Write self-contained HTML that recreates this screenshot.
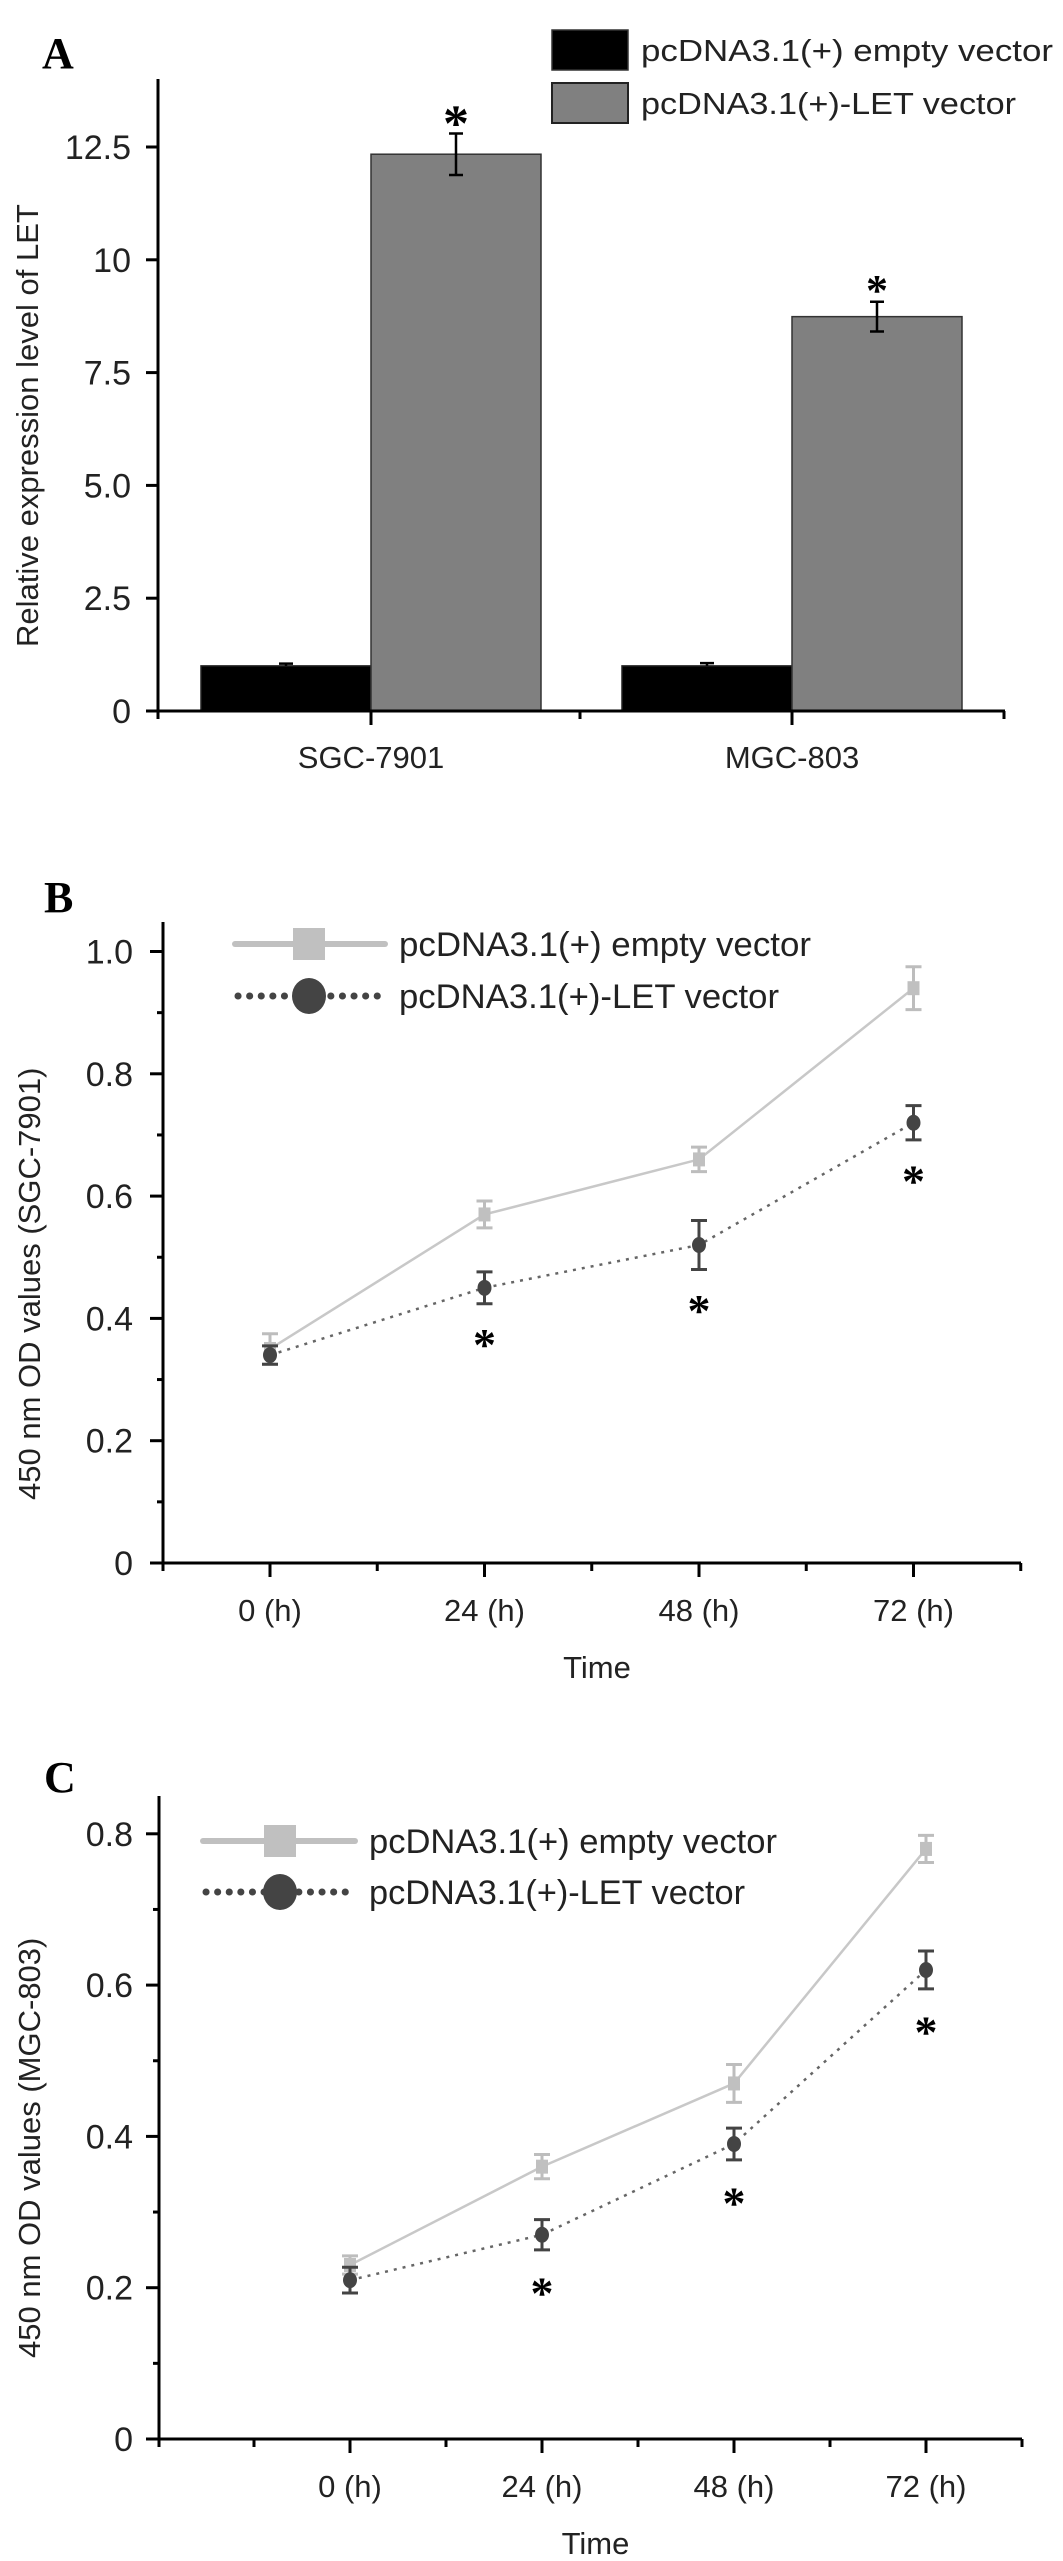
<!DOCTYPE html>
<html><head><meta charset="utf-8"><style>
html,body{margin:0;padding:0;background:#fff;}
svg{display:block;font-family:"Liberation Sans",Arial,sans-serif;}
</style></head><body>
<svg id="fig" width="1063" height="2561" viewBox="0 0 1063 2561" xmlns="http://www.w3.org/2000/svg">
<rect width="1063" height="2561" fill="#fff"/>
<text x="42" y="68" font-family="Liberation Serif" font-weight="bold" font-size="44">A</text>
<text x="44" y="912" font-family="Liberation Serif" font-weight="bold" font-size="44">B</text>
<text x="44" y="1792" font-family="Liberation Serif" font-weight="bold" font-size="44">C</text>
<g id="pa"></g>
<g id="pb"></g>
<g id="pc"></g>
</svg>
<script>
// Panel A data
const aCategories = ["SGC-7901", "MGC-803"];
const aEmpty = [1.0, 1.0];
const aEmptyErr = [0.05, 0.06];
const aLET = [12.34, 8.74];
const aLETErr = [0.46, 0.33];
const aTicks = [0, 2.5, 5.0, 7.5, 10, 12.5];
const aTickLabels = ["0", "2.5", "5.0", "7.5", "10", "12.5"];
const aSig = [true, true];

// Panel B data
const bTimes = ["0 (h)", "24 (h)", "48 (h)", "72 (h)"];
const bEmpty = [0.35, 0.57, 0.66, 0.94];
const bEmptyErr = [0.025, 0.022, 0.02, 0.035];
const bLET = [0.34, 0.45, 0.52, 0.72];
const bLETErr = [0.015, 0.026, 0.04, 0.028];
const bTicks = [0, 0.2, 0.4, 0.6, 0.8, 1.0];
const bTickLabels = ["0", "0.2", "0.4", "0.6", "0.8", "1.0"];
const bSig = [false, true, true, true];

// Panel C data
const cTimes = ["0 (h)", "24 (h)", "48 (h)", "72 (h)"];
const cEmpty = [0.23, 0.36, 0.47, 0.78];
const cEmptyErr = [0.012, 0.016, 0.025, 0.018];
const cLET = [0.21, 0.27, 0.39, 0.62];
const cLETErr = [0.017, 0.02, 0.021, 0.025];
const cTicks = [0, 0.2, 0.4, 0.6, 0.8];
const cTickLabels = ["0", "0.2", "0.4", "0.6", "0.8"];
const cSig = [false, true, true, true];

const NS = "http://www.w3.org/2000/svg";
function mk(parent, tag, attrs, text) {
  const e = document.createElementNS(NS, tag);
  for (const k in attrs) e.setAttribute(k, attrs[k]);
  if (text !== undefined) e.textContent = text;
  parent.appendChild(e);
  return e;
}

// ---------- Panel A ----------
(function () {
  const g = document.getElementById('pa');
  const x0 = 158, y0 = 711, yTop = 79, xEnd = 1005;
  const pxPerUnit = (711 - 147) / 12.5;
  const Y = v => y0 - v * pxPerUnit;
  const catW = 421;
  const cx = i => 371 + i * catW;
  const barW = 170;
  let e;
  aCategories.forEach((c, i) => {
    e = mk(g, 'rect', {x: cx(i) - barW, y: Y(aEmpty[i]), width: barW, height: y0 - Y(aEmpty[i]), fill: '#000', stroke: '#222', 'stroke-width': 1.5});
    
    
    e = mk(g, 'path', {d: `M${cx(i)-barW/2},${Y(aEmpty[i]+aEmptyErr[i])}v${Y(aEmpty[i])-Y(aEmpty[i]+aEmptyErr[i])}M${cx(i)-barW/2-7},${Y(aEmpty[i]+aEmptyErr[i])}h14`, stroke: '#000', 'stroke-width': 2.5, fill: 'none'});
    
    
    e = mk(g, 'rect', {x: cx(i), y: Y(aLET[i]), width: barW, height: y0 - Y(aLET[i]), fill: '#808080', stroke: '#333', 'stroke-width': 1.5});
    
    
    const ex = cx(i) + barW / 2;
    e = mk(g, 'path', {d: `M${ex},${Y(aLET[i]+aLETErr[i])}V${Y(aLET[i]-aLETErr[i])}M${ex-7},${Y(aLET[i]+aLETErr[i])}h14M${ex-7},${Y(aLET[i]-aLETErr[i])}h14`, stroke: '#000', 'stroke-width': 2.5, fill: 'none'});
    
    
    if (aSig[i]) {
      const fs = i === 0 ? 52 : 44;
      const cyA = Y(aLET[i] + aLETErr[i]) - (i === 0 ? 25 : 24);
      e = mk(g, 'text', {x: ex, y: cyA + fs * 0.62, 'text-anchor': 'middle', 'font-size': fs, 'font-family': 'Liberation Serif', 'font-weight': 'bold'}, '*');
      
      
    }
    e = mk(g, 'text', {x: cx(i), y: 768, 'text-anchor': 'middle', 'font-size': 31, fill: '#222'}, c);
    
    
  });
  e = mk(g, 'path', {d: `M${x0},${yTop}V${y0+8}M${x0-12},${y0}H${xEnd}`, stroke: '#000', 'stroke-width': 3, fill: 'none'});
  
  
  [371, 792].forEach(x => mk(g, 'path', {d: `M${x},${y0}v14`, stroke: '#000', 'stroke-width': 3}));
  [580, 1004].forEach(x => mk(g, 'path', {d: `M${x},${y0}v8`, stroke: '#000', 'stroke-width': 3}));
  aTicks.forEach((t, i) => {
    mk(g, 'path', {d: `M${x0-12},${Y(t)}H${x0}`, stroke: '#000', 'stroke-width': 3});
    e = mk(g, 'text', {x: 131, y: Y(t) + 12, 'text-anchor': 'end', 'font-size': 34, fill: '#222'}, aTickLabels[i]);
    
    
  });
  e = mk(g, 'text', {transform: 'translate(38,647) rotate(-90)', 'font-size': 31, fill: '#222'}, 'Relative expression level of LET');
  
  
  e = mk(g, 'rect', {x: 552, y: 30, width: 76, height: 40, fill: '#000', stroke: '#333', 'stroke-width': 1.5});
  
  
  e = mk(g, 'rect', {x: 552, y: 83, width: 76, height: 40, fill: '#808080', stroke: '#222', 'stroke-width': 2});
  
  
  e = mk(g, 'text', {x: 641, y: 61, 'font-size': 31, textLength: 412, lengthAdjust: 'spacingAndGlyphs', fill: '#222'}, 'pcDNA3.1(+) empty vector');
  
  
  e = mk(g, 'text', {x: 641, y: 114, 'font-size': 31, textLength: 375, lengthAdjust: 'spacingAndGlyphs', fill: '#222'}, 'pcDNA3.1(+)-LET vector');
  
  
})();

function linePanel(gid, cfg, times, empty, emptyErr, lets, letErr, ticks, tickLabels, sig, ylabel) {
  const g = document.getElementById(gid);
  const Y = v => cfg.y0 - v * cfg.ppu;
  const X = i => cfg.xc0 + i * cfg.step;
  let e;
  e = mk(g, 'path', {d: `M${cfg.x0},${cfg.yTop}V${cfg.y0+8}M${cfg.x0-12},${cfg.y0}H${cfg.xEnd}`, stroke: '#000', 'stroke-width': 3, fill: 'none'});
  
  
  for (let k = -cfg.preHalf; ; k++) {
    const x = cfg.xc0 + k * cfg.step / 2;
    if (x > cfg.xEnd + 2) break;
    if (k === -cfg.preHalf) continue;
    const major = k >= 0 && k % 2 === 0 && k / 2 < times.length;
    mk(g, 'path', {d: `M${x},${cfg.y0}v${major ? 14 : 8}`, stroke: '#000', 'stroke-width': 3});
  }
  times.forEach((t, i) => {
    e = mk(g, 'text', {x: X(i), y: cfg.y0 + 58, 'text-anchor': 'middle', 'font-size': 31, fill: '#222'}, t);
    
    
  });
  e = mk(g, 'text', {x: (cfg.x0 + cfg.xEnd) / 2 + 5, y: cfg.y0 + 115, 'text-anchor': 'middle', 'font-size': 31, fill: '#222'}, 'Time');
  
  
  ticks.forEach((t, i) => {
    mk(g, 'path', {d: `M${cfg.x0-13},${Y(t)}H${cfg.x0}`, stroke: '#000', 'stroke-width': 3});
    if (i < ticks.length - 1) mk(g, 'path', {d: `M${cfg.x0-6},${Y(t + (ticks[1]-ticks[0])/2)}H${cfg.x0}`, stroke: '#000', 'stroke-width': 3});
    e = mk(g, 'text', {x: 133, y: Y(t) + 12, 'text-anchor': 'end', 'font-size': 34, fill: '#222'}, tickLabels[i]);
    
    
  });
  e = mk(g, 'text', {transform: `translate(40,${cfg.ylabBottom}) rotate(-90)`, 'font-size': 31, fill: '#222'}, ylabel);
  
  
  e = mk(g, 'polyline', {points: empty.map((v, i) => `${X(i)},${Y(v)}`).join(' '), fill: 'none', stroke: '#c8c8c8', 'stroke-width': 2.5});
  
  
  e = mk(g, 'polyline', {points: lets.map((v, i) => `${X(i)},${Y(v)}`).join(' '), fill: 'none', stroke: '#666', 'stroke-width': 2.5, 'stroke-dasharray': '3 6'});
  
  
  empty.forEach((v, i) => {
    const x = X(i);
    e = mk(g, 'path', {d: `M${x},${Y(v+emptyErr[i])}V${Y(v-emptyErr[i])}M${x-8},${Y(v+emptyErr[i])}h16M${x-8},${Y(v-emptyErr[i])}h16`, stroke: '#bdbdbd', 'stroke-width': 3, fill: 'none'});
    
    
    e = mk(g, 'rect', {x: x - 6, y: Y(v) - 7, width: 12, height: 14, fill: '#c0c0c0'});
    
    
  });
  lets.forEach((v, i) => {
    const x = X(i);
    e = mk(g, 'path', {d: `M${x},${Y(v+letErr[i])}V${Y(v-letErr[i])}M${x-8},${Y(v+letErr[i])}h16M${x-8},${Y(v-letErr[i])}h16`, stroke: '#444', 'stroke-width': 3, fill: 'none'});
    
    
    e = mk(g, 'ellipse', {cx: x, cy: Y(v), rx: 7, ry: 8, fill: '#444'});
    
    
    if (sig[i]) {
      const cyS = Y(v - letErr[i]) + cfg.starGap;
      e = mk(g, 'text', {x: x, y: cyS + 46 * 0.62, 'text-anchor': 'middle', 'font-size': 46, 'font-family': 'Liberation Serif', 'font-weight': 'bold'}, '*');
      
      
    }
  });
  const L = cfg.leg;
  e = mk(g, 'path', {d: `M${L.x1},${L.y1}H${L.x2}`, stroke: '#c0c0c0', 'stroke-width': 6, 'stroke-linecap': 'round'});
  
  
  mk(g, 'rect', {x: L.mx - 16, y: L.y1 - 16, width: 32, height: 32, fill: '#c0c0c0'});
  e = mk(g, 'path', {d: `M${L.x1+3},${L.y2}H${L.x2}`, stroke: '#444', 'stroke-width': 7, 'stroke-dasharray': '0.1 11.5', 'stroke-linecap': 'round'});
  
  
  mk(g, 'ellipse', {cx: L.mx, cy: L.y2, rx: 17, ry: 18, fill: '#444'});
  e = mk(g, 'text', {x: L.tx, y: L.y1 + 12, 'font-size': 34, textLength: L.w1, lengthAdjust: 'spacingAndGlyphs', fill: '#222'}, 'pcDNA3.1(+) empty vector');
  
  
  e = mk(g, 'text', {x: L.tx, y: L.y2 + 12, 'font-size': 34, textLength: L.w2, lengthAdjust: 'spacingAndGlyphs', fill: '#222'}, 'pcDNA3.1(+)-LET vector');
  
  
}

linePanel('pb', {x0: 163, xEnd: 1021, y0: 1563, yTop: 922, ppu: 611.5, xc0: 270, step: 214.5, preHalf: 1, ylabBottom: 1500, starGap: 28,
  leg: {x1: 235, x2: 385, mx: 309, y1: 944, y2: 996, tx: 399, w1: 412, w2: 380}},
  bTimes, bEmpty, bEmptyErr, bLET, bLETErr, bTicks, bTickLabels, bSig, '450 nm OD values (SGC-7901)');
linePanel('pc', {x0: 159, xEnd: 1022, y0: 2439, yTop: 1796, ppu: 756.5, xc0: 350, step: 192, preHalf: 2, ylabBottom: 2358, starGap: 30,
  leg: {x1: 203, x2: 355, mx: 280, y1: 1841, y2: 1892, tx: 369, w1: 408, w2: 376}},
  cTimes, cEmpty, cEmptyErr, cLET, cLETErr, cTicks, cTickLabels, cSig, '450 nm OD values (MGC-803)');
</script>
</body></html>
